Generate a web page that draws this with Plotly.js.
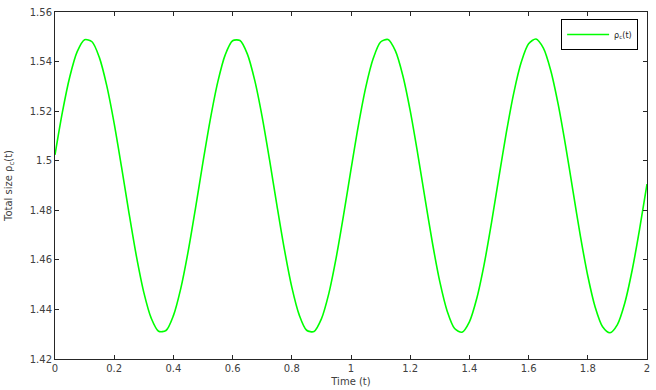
<!DOCTYPE html>
<html>
<head>
<meta charset="utf-8">
<script src="https://cdn.plot.ly/plotly-3.0.1.min.js"></script>
<style>html,body{margin:0;padding:0;background:#fff;}#chart{width:656px;height:390px;}</style>
</head>
<body>
<div id="chart"></div>
<script>
// Time samples (t) and total size rho_c(t)
const timeT = [0,0.025,0.05,0.075,0.1,0.125,0.15,0.175,0.2,0.225,0.25,0.275,0.3,0.325,0.35,0.375,0.4,0.425,0.45,0.475,
0.5,0.525,0.55,0.575,0.6,0.625,0.65,0.675,0.7,0.725,0.75,0.775,0.8,0.825,0.85,0.875,0.9,0.925,0.95,0.975,
1,1.025,1.05,1.075,1.1,1.125,1.15,1.175,1.2,1.225,1.25,1.275,1.3,1.325,1.35,1.375,1.4,1.425,1.45,1.475,
1.5,1.525,1.55,1.575,1.6,1.625,1.65,1.675,1.7,1.725,1.75,1.775,1.8,1.825,1.85,1.875,1.9,1.925,1.95,1.975,2];
const rhoC = [1.5024,1.5196,1.5339,1.5440,1.5488,1.5480,1.5416,1.5302,1.5150,1.4973,1.4789,1.4615,1.4469,1.4365,1.4312,1.4315,1.4375,1.4485,1.4635,1.4811,
1.4995,1.5169,1.5318,1.5427,1.5484,1.5485,1.5430,1.5323,1.5176,1.5002,1.4818,1.4642,1.4490,1.4378,1.4316,1.4311,1.4362,1.4464,1.4609,1.4781,
1.4965,1.5143,1.5297,1.5412,1.5479,1.5489,1.5443,1.5344,1.5202,1.5031,1.4848,1.4669,1.4512,1.4393,1.4323,1.4308,1.4350,1.4445,1.4583,1.4752,
1.4936,1.5115,1.5274,1.5397,1.5472,1.5491,1.5454,1.5363,1.5227,1.5060,1.4877,1.4696,1.4535,1.4409,1.4330,1.4306,1.4339,1.4426,1.4559,1.4724,1.4906];
const xTicks = [0,0.2,0.4,0.6,0.8,1,1.2,1.4,1.6,1.8,2];
const xTickText = ['0','0.2','0.4','0.6','0.8','1','1.2','1.4','1.6','1.8','2'];
const yTicks = [1.42,1.44,1.46,1.48,1.5,1.52,1.54,1.56];
const yTickText = ['1.42','1.44','1.46','1.48','1.5','1.52','1.54','1.56'];

const fontFam = 'DejaVu Sans, Liberation Sans, Arial, sans-serif';
const axisCommon = {
  showline: true, mirror: 'ticks', linecolor: '#262626', linewidth: 1,
  ticks: 'inside', ticklen: 4, tickcolor: '#262626', tickwidth: 1,
  showgrid: false, zeroline: false,
  tickfont: {family: fontFam, size: 10, color: '#404040'}
};
const trace = {
  x: timeT, y: rhoC, type: 'scatter', mode: 'lines',
  line: {color: '#00ff00', width: 1.6, shape: 'spline', smoothing: 0.8},
  name: 'ρ<sub>c</sub>(t)'
};
const layout = {
  width: 656, height: 390,
  margin: {l: 55, r: 9, t: 12, b: 31},
  paper_bgcolor: '#ffffff', plot_bgcolor: '#ffffff',
  showlegend: true,
  legend: {x: 0.985, y: 0.98, xanchor: 'right', yanchor: 'top',
    bordercolor: '#000000', borderwidth: 1, bgcolor: '#ffffff', itemwidth: 42,
    font: {family: fontFam, size: 8, color: '#262626'}},
  xaxis: Object.assign({}, axisCommon, {
    range: [0, 2], tickvals: xTicks, ticktext: xTickText,
    title: {text: 'Time (t)', font: {family: fontFam, size: 10, color: '#404040'}, standoff: 4}
  }),
  yaxis: Object.assign({}, axisCommon, {
    range: [1.42, 1.56], tickvals: yTicks, ticktext: yTickText,
    title: {text: 'Total size ρ<sub>c</sub>(t)', font: {family: fontFam, size: 10, color: '#404040'}, standoff: 15}
  })
};
Plotly.newPlot('chart', [trace], layout, {displayModeBar: false, staticPlot: true});
</script>
</body>
</html>
